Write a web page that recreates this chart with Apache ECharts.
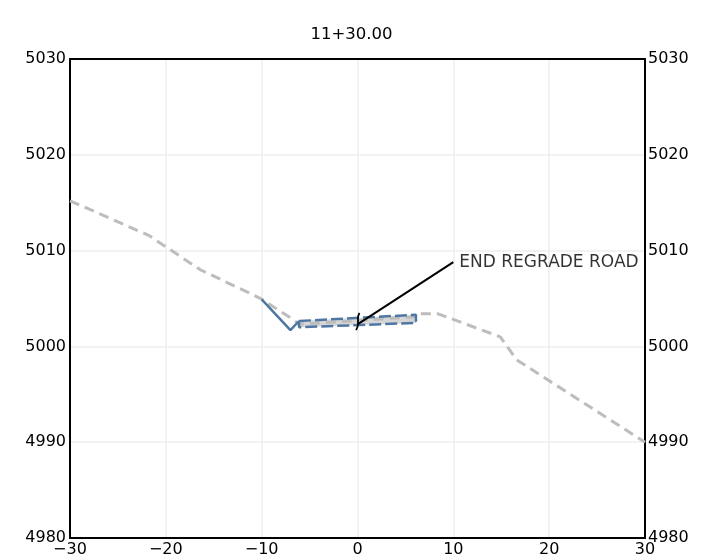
<!DOCTYPE html>
<html>
<head>
<meta charset="utf-8">
<script src="https://cdn.jsdelivr.net/npm/echarts@6/dist/echarts.min.js"></script>
<style>html,body{margin:0;padding:0;background:#fff}#c{width:703px;height:560px}</style>
</head>
<body>
<div id="c"></div>
<script>
// Data
const titleText = "11+30.00";
const xTicks = [-30, -20, -10, 0, 10, 20, 30];
const yTicks = [4980, 4990, 5000, 5010, 5020, 5030];

const groundX = [-30, -21.8, -16.4, -10.2, -6.7, -6.1, 6.1, 6.6, 8.4, 14.9, 16.6, 30];
const groundY = [5015.2, 5011.6, 5008.0, 5005.05, 5002.8, 5002.3, 5003.1, 5003.4, 5003.4, 5001.0, 4998.6, 4990.0];

const slopeX = [-10.0, -7.0, -6.1];
const slopeY = [5004.9, 5001.7, 5002.65];

const roadX = [-6.1, 6.1, 6.1, -6.1, -6.1];
const roadY = [5002.65, 5003.3, 5002.45, 5002.0, 5002.65];

const leaderX = [0, 10];
const leaderY = [5002.3, 5008.8];

const breakX = [-0.15, 0.05, 0.05, 0.2];
const breakY = [5001.7, 5002.4, 5002.9, 5003.5];

const noteText = "END REGRADE ROAD";

const zip = (xs, ys) => xs.map((x, i) => [x, ys[i]]);
const FONT = "DejaVu Sans";
const minus = v => (v < 0 ? '\u2212' + Math.abs(v) : String(v));

const chart = echarts.init(document.getElementById('c'), null, {renderer: 'canvas'});
const axisLineStyle = {show: true, onZero: false, lineStyle: {color: '#000', width: 2}};
chart.setOption({
  animation: false,
  backgroundColor: '#fff',
  title: {
    text: titleText, left: 'center', top: 21,
    textStyle: {fontFamily: FONT, fontSize: 16.5, fontWeight: 'normal', color: '#000'}
  },
  grid: {left: 70, right: 58, top: 59, bottom: 22},
  xAxis: [{
    type: 'value', min: xTicks[0], max: xTicks[xTicks.length - 1], interval: 10, position: 'bottom',
    axisLine: axisLineStyle,
    axisTick: {show: false},
    axisLabel: {margin: 4, fontFamily: FONT, fontSize: 16, color: '#000', formatter: minus},
    splitLine: {show: true, lineStyle: {color: '#eeeeee', width: 1.5}}
  }, {
    type: 'value', min: xTicks[0], max: xTicks[xTicks.length - 1], interval: 10, position: 'top',
    axisLine: axisLineStyle, axisTick: {show: false}, axisLabel: {show: false}, splitLine: {show: false}
  }],
  yAxis: [{
    type: 'value', min: yTicks[0], max: yTicks[yTicks.length - 1], interval: 10, position: 'left',
    axisLine: axisLineStyle,
    axisTick: {show: false},
    axisLabel: {margin: 4, fontFamily: FONT, fontSize: 16, color: '#000', formatter: v => String(v)},
    splitLine: {show: true, lineStyle: {color: '#eeeeee', width: 1.5}}
  }, {
    type: 'value', min: yTicks[0], max: yTicks[yTicks.length - 1], interval: 10, position: 'right',
    axisLine: axisLineStyle,
    axisTick: {show: false},
    axisLabel: {margin: 3, fontFamily: FONT, fontSize: 16, color: '#000', formatter: v => String(v)},
    splitLine: {show: false}
  }],
  series: [
    {
      type: 'custom', silent: true, z: 1,
      renderItem: function (params, api) {
        if (params.dataIndex !== 0) return;
        const pts = roadX.map((x, i) => api.coord([x, roadY[i]]));
        return {type: 'polygon', shape: {points: pts}, style: {fill: '#d6d6d6'}};
      },
      data: [[roadX[0], roadY[0]]]
    },
    {
      type: 'line', data: zip(groundX, groundY), symbol: 'none', silent: true,
      lineStyle: {color: '#bdbdbd', width: 3, type: [10, 6]}, z: 2
    },
    {
      type: 'line', data: zip(slopeX, slopeY), symbol: 'none', silent: true,
      lineStyle: {color: '#4f77a3', width: 2.5}, z: 3
    },
    {
      type: 'line', data: zip(roadX, roadY), symbol: 'none', silent: true,
      lineStyle: {color: '#4f77a3', width: 2.5, type: [12, 4]}, z: 3
    },
    {
      type: 'line', data: zip(leaderX, leaderY), symbol: 'none', silent: true,
      lineStyle: {color: '#000', width: 2}, z: 4
    },
    {
      type: 'line', data: zip(breakX, breakY), symbol: 'none', silent: true, smooth: true,
      lineStyle: {color: '#000', width: 1.8}, z: 4
    },
    {
      type: 'scatter', data: [[leaderX[1], leaderY[1]]], symbolSize: 0, silent: true,
      label: {show: true, position: 'right', distance: 6, formatter: noteText,
        fontFamily: FONT, fontSize: 17, color: '#000'}, z: 5
    }
  ]
});
</script>
</body>
</html>
